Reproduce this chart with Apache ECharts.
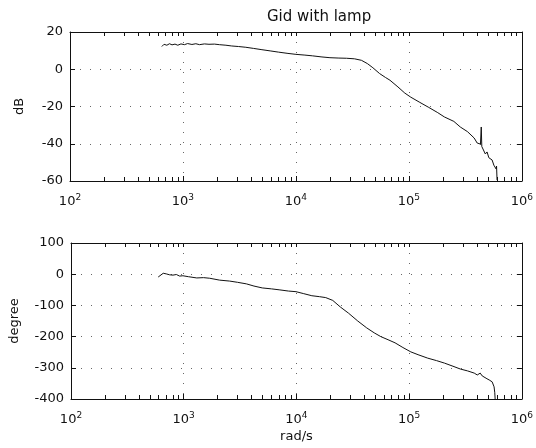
<!DOCTYPE html>
<html>
<head>
<meta charset="utf-8">
<script src="https://cdn.jsdelivr.net/npm/echarts@6/dist/echarts.min.js"></script>
<style>
  html, body { margin: 0; padding: 0; background: #fff; }
  #main { width: 536px; height: 448px; }
</style>
</head>
<body>
<div id="main"></div>
<script>
// measured magnitude (rad/s -> dB)
const magFreq = [650, 680, 720, 760, 800, 850, 900, 960, 1030, 1100, 1200, 1300, 1400, 1550, 1700, 1900, 2100, 2400, 2700, 3100, 3600, 4200, 5000, 6000, 7000, 8500, 10000, 12000, 14000, 17000, 20000, 24000, 28000, 33000, 38000, 43000, 48000, 55000, 62000, 68000, 80000, 92000, 104000, 125000, 150000, 180000, 206000, 250000, 285000, 330000, 378000, 402000, 430000, 437000, 442000, 460000, 475000, 492000, 510000, 530000, 545000, 565000, 580000, 591000, 597000, 603000];
const magDb = [12.2, 13.4, 12.9, 13.7, 13.1, 13.5, 12.9, 13.6, 13.2, 13.8, 13.3, 13.7, 13.2, 13.6, 13.4, 13.5, 13.2, 12.9, 12.5, 12.2, 11.8, 11.2, 10.5, 9.8, 9.2, 8.5, 8.0, 7.6, 7.2, 6.6, 6.2, 6.0, 5.9, 5.6, 4.8, 3.0, 0.8, -2.3, -4.4, -5.9, -9.5, -12.8, -15.0, -17.8, -20.5, -23.3, -25.6, -28.0, -31.0, -33.5, -36.9, -39.6, -40.2, -31.0, -41.5, -42.5, -45.5, -44.4, -47.5, -46.5, -48.7, -51.5, -50.5, -53.5, -52.0, -59.5];

// measured phase (rad/s -> degree)
const phaseFreq = [594, 658, 700, 750, 803, 860, 920, 984, 1100, 1306, 1500, 1702, 2083, 2552, 3000, 3600, 4200, 4975, 6000, 7020, 8500, 9910, 11500, 13700, 16000, 18200, 21000, 24500, 29000, 35000, 42000, 49000, 56000, 65000, 75000, 88000, 103500, 120000, 146000, 175000, 206000, 245000, 285000, 330000, 378000, 402000, 427000, 445000, 463000, 490000, 513000, 545000, 567000, 575000, 580000];
const phaseDeg = [-9, 3, 1, -2, -3, -1, -6, -5, -8, -12, -11, -13, -19, -22, -26, -31, -38, -44, -47, -50, -54, -56, -62, -69, -72, -75, -84, -105, -125, -150, -172, -188, -200, -210, -220, -235, -249, -258, -269, -277, -285, -295, -304, -310, -317, -323, -317, -326, -329, -335, -339, -345, -361, -380, -403];

// axis ticks
const decades = [100, 1000, 10000, 100000, 1000000];
const minorSteps = [2, 3, 4, 5, 6, 7, 8, 9];
const dbTicks = [-60, -40, -20, 0, 20];
const degTicks = [-400, -300, -200, -100, 0, 100];

const minorTicks = [];
decades.slice(0, -1).forEach((d) => {
  minorSteps.forEach((m) => minorTicks.push(d * m));
});

const font = 'DejaVu Sans';
const black = '#111';

const myChart = echarts.init(document.getElementById('main'), null, { renderer: 'canvas' });

const zip = (xs, ys) => xs.map((x, i) => [x, ys[i]]);

const splitDots = { show: true, lineStyle: { color: '#666', width: 1, type: [1, 9] } };

// main log x axis with decade labels
const mainX = (gridIndex, extra) => Object.assign({
  type: 'log',
  logBase: 10,
  gridIndex,
  min: decades[0],
  max: decades[decades.length - 1],
  position: 'bottom',
  axisLine: { show: true, onZero: false, lineStyle: { color: black, width: 1 } },
  axisTick: { show: true, inside: true, length: 5, lineStyle: { color: black } },
  axisLabel: {
    show: true,
    margin: 12,
    showMinLabel: true,
    showMaxLabel: true,
    formatter: (v) => `{b|10}{e|${Math.round(Math.log10(v))}}`,
    rich: {
      b: { fontFamily: font, fontSize: 13, color: black, lineHeight: 18 },
      e: { fontFamily: font, fontSize: 9, color: black, verticalAlign: 'top', lineHeight: 18 },
    },
  },
  splitLine: splitDots,
}, extra || {});

// overlay axis that only draws the minor log ticks
const minorX = (gridIndex, position) => ({
  type: 'log',
  logBase: 10,
  gridIndex,
  min: decades[0],
  max: decades[decades.length - 1],
  position,
  axisLine: { show: position === 'top', onZero: false, lineStyle: { color: black, width: 1 } },
  axisTick: { show: true, inside: true, length: 4, customValues: position === 'top' ? decades.concat(minorTicks) : minorTicks, lineStyle: { color: black } },
  axisLabel: { show: false },
  splitLine: { show: false },
});

const leftY = (gridIndex, ticks, name, nameGap) => ({
  type: 'value',
  gridIndex,
  min: ticks[0],
  max: ticks[ticks.length - 1],
  interval: ticks[1] - ticks[0],
  position: 'left',
  name,
  nameLocation: 'middle',
  nameGap,
  nameTextStyle: { fontFamily: font, fontSize: 13, color: black },
  axisLine: { show: true, onZero: false, lineStyle: { color: black, width: 1 } },
  axisTick: { show: true, inside: true, length: 5, lineStyle: { color: black } },
  axisLabel: { show: true, margin: 7, fontFamily: font, fontSize: 13, color: black },
  splitLine: splitDots,
});

const rightY = (gridIndex, ticks) => ({
  type: 'value',
  gridIndex,
  min: ticks[0],
  max: ticks[ticks.length - 1],
  interval: ticks[1] - ticks[0],
  position: 'right',
  axisLine: { show: true, onZero: false, lineStyle: { color: black, width: 1 } },
  axisTick: { show: true, inside: true, length: 5, lineStyle: { color: black } },
  axisLabel: { show: false },
  splitLine: { show: false },
});

const option = {
  animation: false,
  backgroundColor: '#fff',
  title: {
    text: 'Gid with lamp',
    left: 262,
    top: 5,
    textStyle: { fontFamily: font, fontSize: 15, fontWeight: 'normal', color: black },
  },
  grid: [
    { left: 70, right: 11, top: 32, height: 149 },
    { left: 70, right: 12, top: 243, height: 156 },
  ],
  xAxis: [
    mainX(0),
    minorX(0, 'bottom'),
    minorX(0, 'top'),
    mainX(1, {
      name: 'rad/s',
      nameLocation: 'middle',
      nameGap: 31,
      nameTextStyle: { fontFamily: font, fontSize: 13, color: black },
    }),
    minorX(1, 'bottom'),
    minorX(1, 'top'),
  ],
  yAxis: [
    leftY(0, dbTicks, 'dB', 44),
    rightY(0, dbTicks),
    leftY(1, degTicks, 'degree', 50),
    rightY(1, degTicks),
  ],
  series: [
    {
      name: 'magnitude',
      type: 'line',
      xAxisIndex: 0,
      yAxisIndex: 0,
      data: zip(magFreq, magDb),
      showSymbol: false,
      lineStyle: { color: black, width: 1 },
    },
    {
      name: 'phase',
      type: 'line',
      xAxisIndex: 3,
      yAxisIndex: 2,
      data: zip(phaseFreq, phaseDeg),
      showSymbol: false,
      lineStyle: { color: black, width: 1 },
    },
  ],
};

myChart.setOption(option);
</script>
</body>
</html>
